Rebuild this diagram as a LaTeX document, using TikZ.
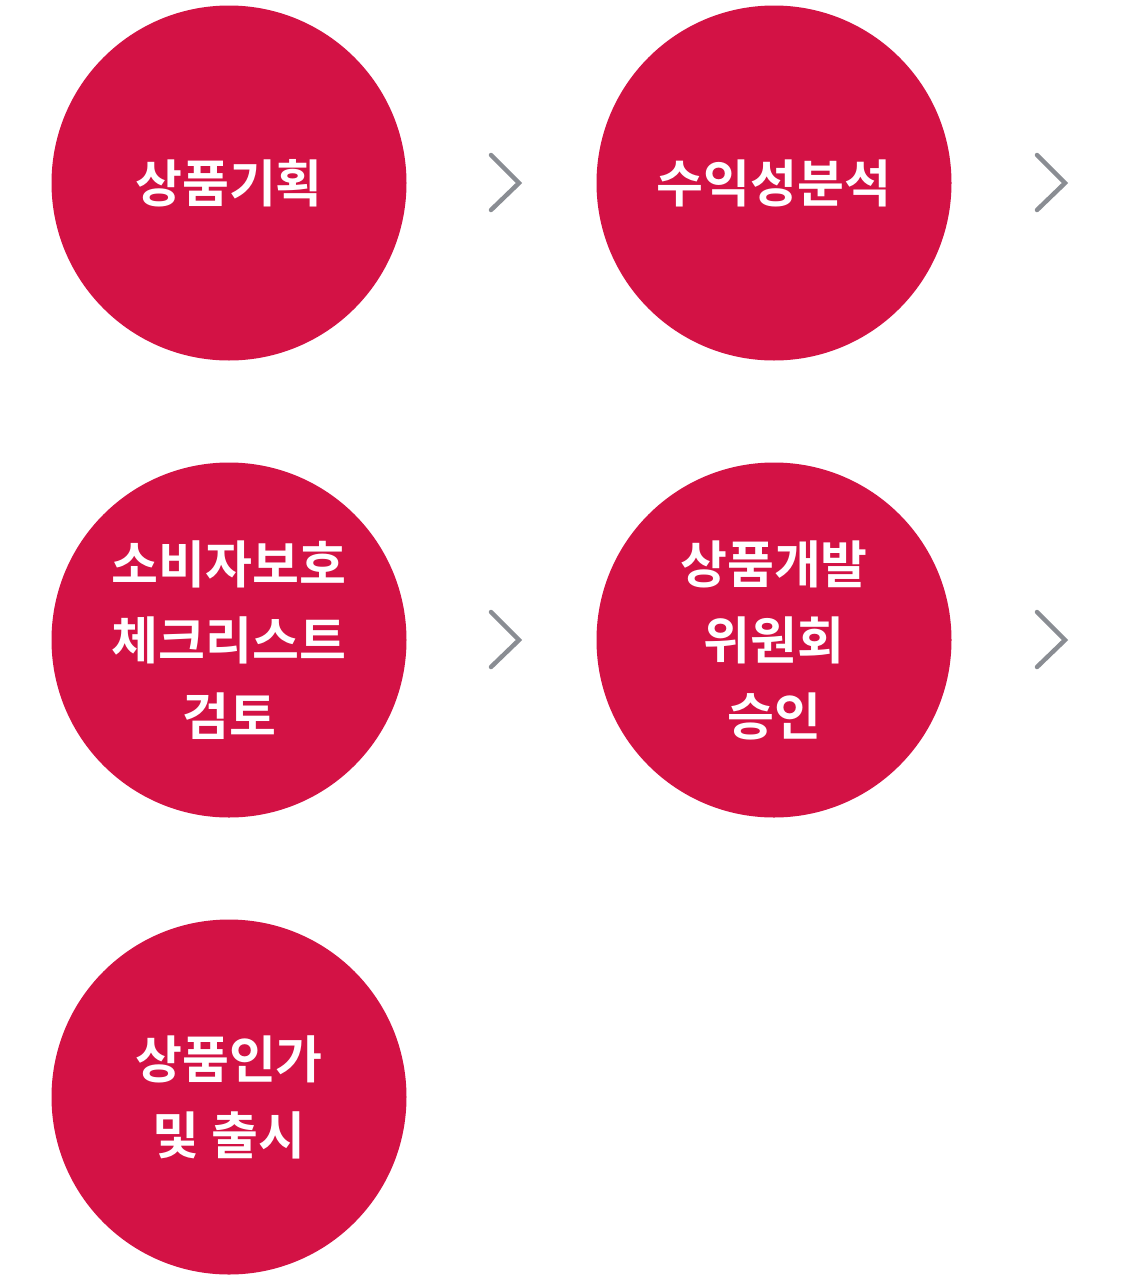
\documentclass[tikz,border=0pt]{standalone}
\usepackage{fontspec}
\setmainfont{Noto Sans CJK KR}[BoldFont={* Bold}]
\newfontfamily\krb{Noto Sans CJK KR Bold}
\definecolor{stepred}{HTML}{D31245}
\definecolor{chevgray}{HTML}{8A8D93}
\begin{document}
\begin{tikzpicture}[x=1pt,y=-1pt,
  stepcircle/.style={circle,fill=stepred,draw=none,minimum size=355pt,inner sep=0pt,
    text=white,align=center,font=\krb\fontsize{51}{76}\selectfont},
  chev/.style={draw=chevgray,line width=4.5pt,line cap=round,line join=miter}]
\useasboundingbox (0,0) rectangle (1132,1280);
\node[stepcircle] (s1) at (229,183) {상품기획};
\node[stepcircle] (s2) at (774,183) {수익성분석};
\node[stepcircle] (s3) at (229,640) {소비자보호\\체크리스트\\검토};
\node[stepcircle] (s4) at (774,640) {상품개발\\위원회\\승인};
\node[stepcircle] (s5) at (229,1097) {상품인가\\및 출시};
\coordinate (c1) at (505,183);
\coordinate (c2) at (1051,183);
\coordinate (c3) at (505,640);
\coordinate (c4) at (1051,640);
\foreach \c in {c1,c2,c3,c4}{
  \draw[chev] ([shift={(-14,-28)}]\c) -- ([shift={(14,0)}]\c) -- ([shift={(-14,27)}]\c);
}
\end{tikzpicture}
\end{document}
